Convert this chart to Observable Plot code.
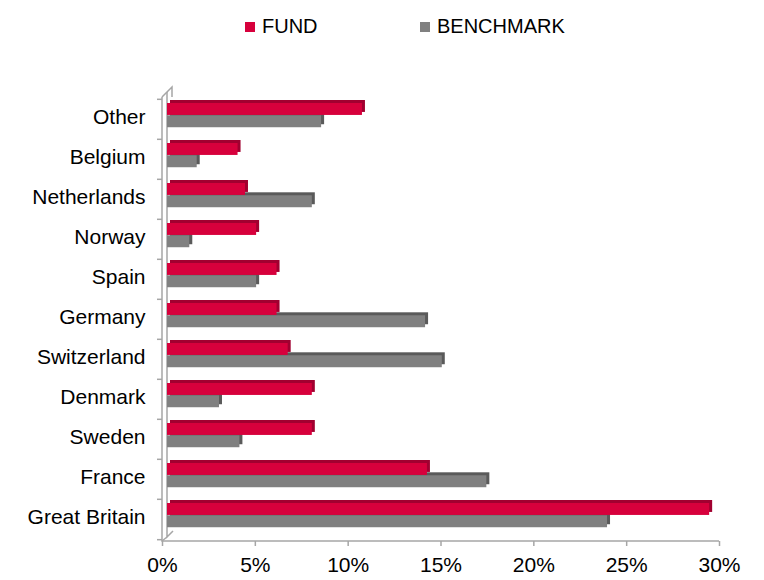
<!DOCTYPE html>
<html>
<head>
<meta charset="utf-8">
<script src="https://cdn.jsdelivr.net/npm/d3@7"></script>
<script src="https://cdn.jsdelivr.net/npm/@observablehq/plot@0.6"></script>
<style>
  html, body { margin: 0; padding: 0; background: #fff; }
  body { width: 764px; height: 580px; position: relative; overflow: hidden; font-family: "Liberation Sans", Arial, sans-serif; }
  #legend { position: absolute; left: 0; top: 0; width: 764px; height: 50px; font-size: 20px; color: #000; }
  .item { position: absolute; top: 14px; line-height: 24px; white-space: nowrap; }
  .sw { display: inline-block; width: 10px; height: 10px; margin-right: 7px; vertical-align: 1px; }
  #chart { position: absolute; left: 0; top: 50px; }
</style>
</head>
<body>
<div id="legend"></div>
<div id="chart"></div>
<script>
const countries = ["Other","Belgium","Netherlands","Norway","Spain","Germany","Switzerland","Denmark","Sweden","France","Great Britain"];
const fund      = [10.5, 3.8, 4.2, 4.8, 5.9, 5.9, 6.5, 7.8, 7.8, 14.0, 29.2];
const benchmark = [ 8.3, 1.6, 7.8, 1.2, 4.8, 13.9, 14.8, 2.8, 3.9, 17.2, 23.7];
const xTicks = [0, 5, 10, 15, 20, 25, 30];
const seriesNames = ["FUND", "BENCHMARK"];
const seriesColors = ["#d7003c", "#808080"];
const seriesDark = ["#a10030", "#5a5a5a"];

const rows = countries.map((c, i) => ({country: c, fund: fund[i], benchmark: benchmark[i]}));

// legend
const legend = document.getElementById("legend");
const legendX = [245, 420];
seriesNames.forEach((n, i) => {
  const d = document.createElement("div");
  d.className = "item";
  d.style.left = legendX[i] + "px";
  d.innerHTML = `<span class="sw" style="background:${seriesColors[i]}"></span>${n}`;
  legend.appendChild(d);
});

const W = 764, H = 530;
const mT = 47, mB = 39, mL = 162, mR = 45;
const band = (H - mT - mB) / countries.length;
const barH = 12.3;
const fundTop = 4;
const bmTop = fundTop + barH;

function walls(index, scales, values, dims) {
  const x0 = scales.x(0);
  const top = dims.marginTop;
  const bottom = dims.height - dims.marginBottom;
  const right = dims.width - dims.marginRight;
  const g = document.createElementNS("http://www.w3.org/2000/svg", "g");
  g.setAttribute("fill", "none");
  g.setAttribute("stroke", "#a6a6a6");
  g.setAttribute("stroke-width", "1.5");
  const paths = [
    `M${x0},${top}L${x0},${bottom}L${right},${bottom}`,
    `M${x0},${top}L${x0 + 10},${top - 10}L${x0 + 10},${top}`,
    `M${x0 + 5},${top - 5}L${x0 + 5},${bottom - 4}L${x0 + 11},${bottom - 10}`,
    `M${x0},${bottom}L${x0 + 5},${bottom - 4}`
  ];
  for (const p of paths) {
    const e = document.createElementNS("http://www.w3.org/2000/svg", "path");
    e.setAttribute("d", p);
    g.appendChild(e);
  }
  return g;
}

const chart = Plot.plot({
  width: W,
  height: H,
  marginTop: mT,
  marginBottom: mB,
  marginLeft: mL,
  marginRight: mR,
  style: {fontFamily: "'Liberation Sans', Arial, sans-serif", fontSize: "21px", color: "#000", background: "#fff"},
  x: {domain: [0, 30], axis: null, label: null},
  y: {domain: countries, padding: 0, axis: null, label: null},
  marks: [
    walls,
    // back (3D top/side) faces
    Plot.barX(rows, {y: "country", x: "benchmark", fill: seriesDark[1], insetTop: bmTop, insetBottom: band - bmTop - barH, dx: 8, dy: -3}),
    Plot.barX(rows, {y: "country", x: "fund", fill: seriesDark[0], insetTop: fundTop, insetBottom: band - fundTop - barH, dx: 8, dy: -3}),
    // front faces
    Plot.barX(rows, {y: "country", x: "benchmark", fill: seriesColors[1], insetTop: bmTop, insetBottom: band - bmTop - barH, dx: 5}),
    Plot.barX(rows, {y: "country", x: "fund", fill: seriesColors[0], insetTop: fundTop, insetBottom: band - fundTop - barH, dx: 5}),
    Plot.axisX({ticks: xTicks, tickFormat: d => d + "%", tickSize: 5, tickPadding: 11, stroke: "#a6a6a6", fill: "#000", fontSize: 21, strokeWidth: 1.5, label: null}),
    Plot.axisY({tickSize: 0, tickPadding: 17, fill: "#000", fontSize: 21, dy: -2, label: null}),
    Plot.axisY({tickSize: 5, tickFormat: () => "", stroke: "#a6a6a6", strokeWidth: 1.5, dy: -band / 2, label: null}),
    Plot.axisY({ticks: [countries[countries.length - 1]], tickSize: 5, tickFormat: () => "", stroke: "#a6a6a6", strokeWidth: 1.5, dy: band / 2, label: null})
  ]
});
document.getElementById("chart").appendChild(chart);
</script>
</body>
</html>
